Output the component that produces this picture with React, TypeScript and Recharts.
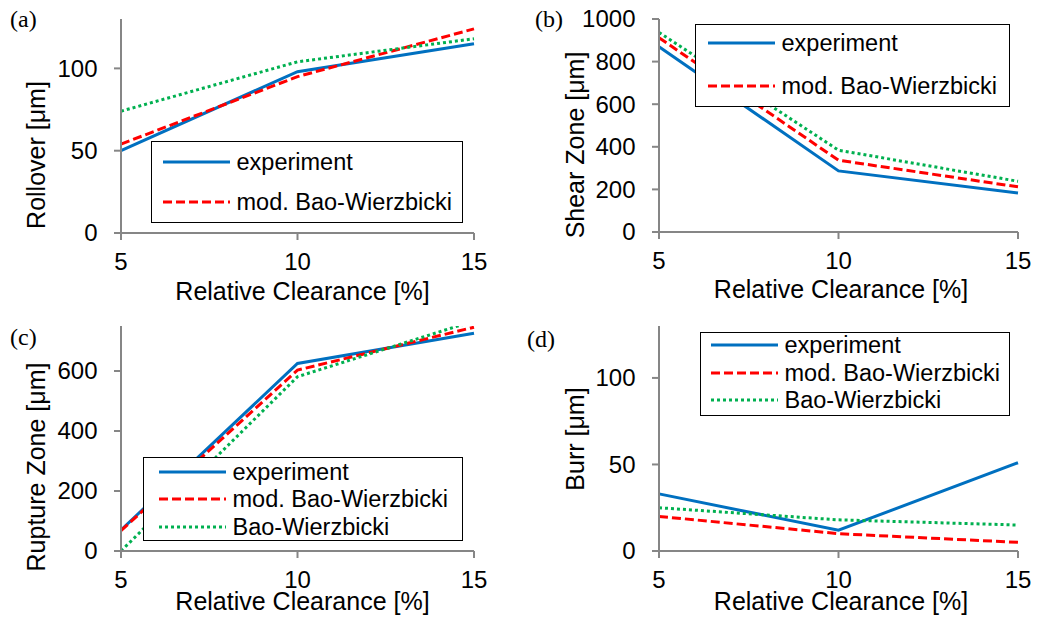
import React from 'react';
import { LineChart, Line, XAxis, YAxis, Legend } from 'recharts';

// relative clearance in %
const clearance = [5, 10, 15];

const rolloverExp = [50, 98, 115];
const rolloverMod = [54, 95, 124];
const rolloverBao = [74, 104, 118];

const shearExp = [870, 287, 183];
const shearMod = [912, 337, 212];
const shearBao = [937, 384, 238];

const ruptureExp = [70, 625, 726];
const ruptureMod = [68, 603, 746];
const ruptureBao = [0, 581, 767];

const burrExp = [33, 12, 51];
const burrMod = [20, 10, 5];
const burrBao = [25, 18, 15];

const seriesNames = ['experiment', 'mod. Bao-Wierzbicki', 'Bao-Wierzbicki'];
const xTicks = [5, 10, 15];

const SERIES = [
  { key: 'exp', color: '#0070C0', dash: undefined as string | undefined },
  { key: 'mod', color: '#FF0000', dash: '9 4' },
  { key: 'bao', color: '#00B050', dash: '3 3' },
];

const GRAY = '#868686';

const buildRows = (exp: number[], mod: number[], bao: number[]) =>
  clearance.map((x, i) => ({ x, exp: exp[i], mod: mod[i], bao: bao[i] }));

// recharts clones label elements with its own x/y, so use other prop names
const AxisTitle = ({ px, py, text, rotate }: { px: number; py: number; text: string; rotate?: boolean }) => (
  <text
    x={px}
    y={py}
    textAnchor="middle"
    fontSize={25}
    fill="#000"
    transform={rotate ? `rotate(-90 ${px} ${py})` : undefined}
  >
    {text}
  </text>
);

const LegendBox = ({ box, rows, sample, entries }: any) => (
  <div
    style={{
      position: 'relative',
      width: box.w,
      height: box.h,
      border: '1.5px solid #000',
      boxSizing: 'border-box',
      background: '#fff',
    }}
  >
    {entries.map((idx: number, i: number) => {
      const s = SERIES[idx];
      return (
        <div
          key={s.key}
          style={{
            position: 'absolute',
            left: sample.x - 1.5,
            top: rows[i] - 15 - 1.5,
            height: 30,
            display: 'flex',
            alignItems: 'center',
            whiteSpace: 'nowrap',
          }}
        >
          <svg width={67} height={30} style={{ display: 'block' }}>
            <line x1={0} y1={15} x2={67} y2={15} stroke={s.color} strokeWidth={3} strokeDasharray={s.dash} />
          </svg>
          <span style={{ marginLeft: 7, fontSize: 23.5, lineHeight: '30px' }}>{seriesNames[idx]}</span>
        </div>
      );
    })}
  </div>
);

const panels = [
  {
    letter: '(a)', left: 0, top: 0, w: 520, h: 305, mTop: 19, mRight: 46, yW: 121, xH: 72,
    data: buildRows(rolloverExp, rolloverMod, rolloverBao), domain: [0, 130], ticks: [0, 50, 100],
    yTitle: 'Rollover [μm]', yt: { x: 45, y: 155 }, xt: { x: 302.5, y: 300 },
    legend: { box: { x: 151, y: 141, w: 312, h: 82 }, rows: [21, 61], sample: { x: 12 }, entries: [0, 1] },
    letterPos: { x: 10, y: 27 },
  },
  {
    letter: '(b)', left: 520, top: 0, w: 517, h: 305, mTop: 19, mRight: 19, yW: 139, xH: 73,
    data: buildRows(shearExp, shearMod, shearBao), domain: [0, 1000], ticks: [0, 200, 400, 600, 800, 1000],
    yTitle: 'Shear Zone [μm]', yt: { x: 64, y: 145 }, xt: { x: 321, y: 298 },
    legend: { box: { x: 175, y: 24, w: 315, h: 83 }, rows: [19, 62], sample: { x: 13 }, entries: [0, 1] },
    letterPos: { x: 15, y: 27 },
  },
  {
    letter: '(c)', left: 0, top: 305, w: 520, h: 313, mTop: 21, mRight: 46, yW: 121, xH: 67,
    data: buildRows(ruptureExp, ruptureMod, ruptureBao), domain: [0, 750], ticks: [0, 200, 400, 600],
    yTitle: 'Rupture Zone [μm]', yt: { x: 45, y: 162 }, xt: { x: 302.5, y: 305 },
    legend: { box: { x: 143, y: 152, w: 320, h: 84 }, rows: [15, 42, 70], sample: { x: 16 }, entries: [0, 1, 2] },
    letterPos: { x: 10, y: 40 },
  },
  {
    letter: '(d)', left: 520, top: 305, w: 517, h: 313, mTop: 21, mRight: 19, yW: 139, xH: 67,
    data: buildRows(burrExp, burrMod, burrBao), domain: [0, 130], ticks: [0, 50, 100],
    yTitle: 'Burr [μm]', yt: { x: 64, y: 134 }, xt: { x: 321, y: 305 },
    legend: { box: { x: 180, y: 27, w: 310, h: 84 }, rows: [13, 41, 68], sample: { x: 11 }, entries: [0, 1, 2] },
    letterPos: { x: 7, y: 42 },
  },
];

const Panel = ({ p }: { p: (typeof panels)[number] }) => {
  const yTick = (props: any) => (
    <text x={p.yW - 23.5} y={props.y} dy="0.35em" textAnchor="end" fontSize={24} fill="#000">
      {props.payload.value}
    </text>
  );
  return (
    <div style={{ position: 'absolute', left: p.left, top: p.top, width: p.w, height: p.h }}>
      <LineChart
        width={p.w}
        height={p.h}
        data={p.data}
        margin={{ top: p.mTop, right: p.mRight, bottom: 0, left: 0 }}
      >
        <XAxis
          dataKey="x"
          type="number"
          domain={[5, 15]}
          ticks={xTicks}
          interval={0}
          height={p.xH}
          tickSize={7}
          tickMargin={13}
          axisLine={{ stroke: GRAY, strokeWidth: 2 }}
          tickLine={{ stroke: GRAY, strokeWidth: 2 }}
          tick={{ fill: '#000', fontSize: 24 }}
          label={<AxisTitle px={p.xt.x} py={p.xt.y} text="Relative Clearance [%]" />}
        />
        <XAxis
          xAxisId="top"
          orientation="top"
          dataKey="x"
          type="number"
          domain={[5, 15]}
          height={0}
          tick={false}
          tickLine={false}
          axisLine={{ stroke: '#000', strokeWidth: 2 }}
        />
        <YAxis
          type="number"
          domain={p.domain}
          ticks={p.ticks}
          interval={0}
          allowDataOverflow
          width={p.yW}
          tickSize={7}
          axisLine={{ stroke: GRAY, strokeWidth: 2 }}
          tickLine={{ stroke: GRAY, strokeWidth: 2 }}
          tick={yTick}
          label={<AxisTitle px={p.yt.x} py={p.yt.y} text={p.yTitle} rotate />}
        />
        <YAxis
          yAxisId="right"
          orientation="right"
          domain={[0, 1]}
          width={0}
          tick={false}
          tickLine={false}
          axisLine={{ stroke: '#000', strokeWidth: 2 }}
        />
        {SERIES.map((s) => (
          <Line
            key={s.key}
            dataKey={s.key}
            stroke={s.color}
            strokeWidth={3}
            strokeDasharray={s.dash}
            dot={false}
            activeDot={false}
            isAnimationActive={false}
          />
        ))}
        <Legend
          layout="vertical"
          align="center"
          verticalAlign="middle"
          wrapperStyle={{ left: p.legend.box.x, top: p.legend.box.y, width: p.legend.box.w, height: p.legend.box.h }}
          content={() => <LegendBox {...p.legend} />}
        />
      </LineChart>
      <svg
        width={60}
        height={50}
        style={{ position: 'absolute', left: 0, top: 0, overflow: 'visible', pointerEvents: 'none' }}
      >
        <text x={p.letterPos.x} y={p.letterPos.y} fontFamily="'Liberation Serif', serif" fontSize={24} fill="#000">
          {p.letter}
        </text>
      </svg>
    </div>
  );
};

export default function App() {
  return (
    <div
      style={{
        position: 'absolute',
        left: 0,
        top: 0,
        width: 1037,
        height: 618,
        background: '#fff',
        fontFamily: "'Liberation Sans', Arial, sans-serif",
        overflow: 'hidden',
      }}
    >
      {panels.map((p) => (
        <Panel key={p.letter} p={p} />
      ))}
    </div>
  );
}
